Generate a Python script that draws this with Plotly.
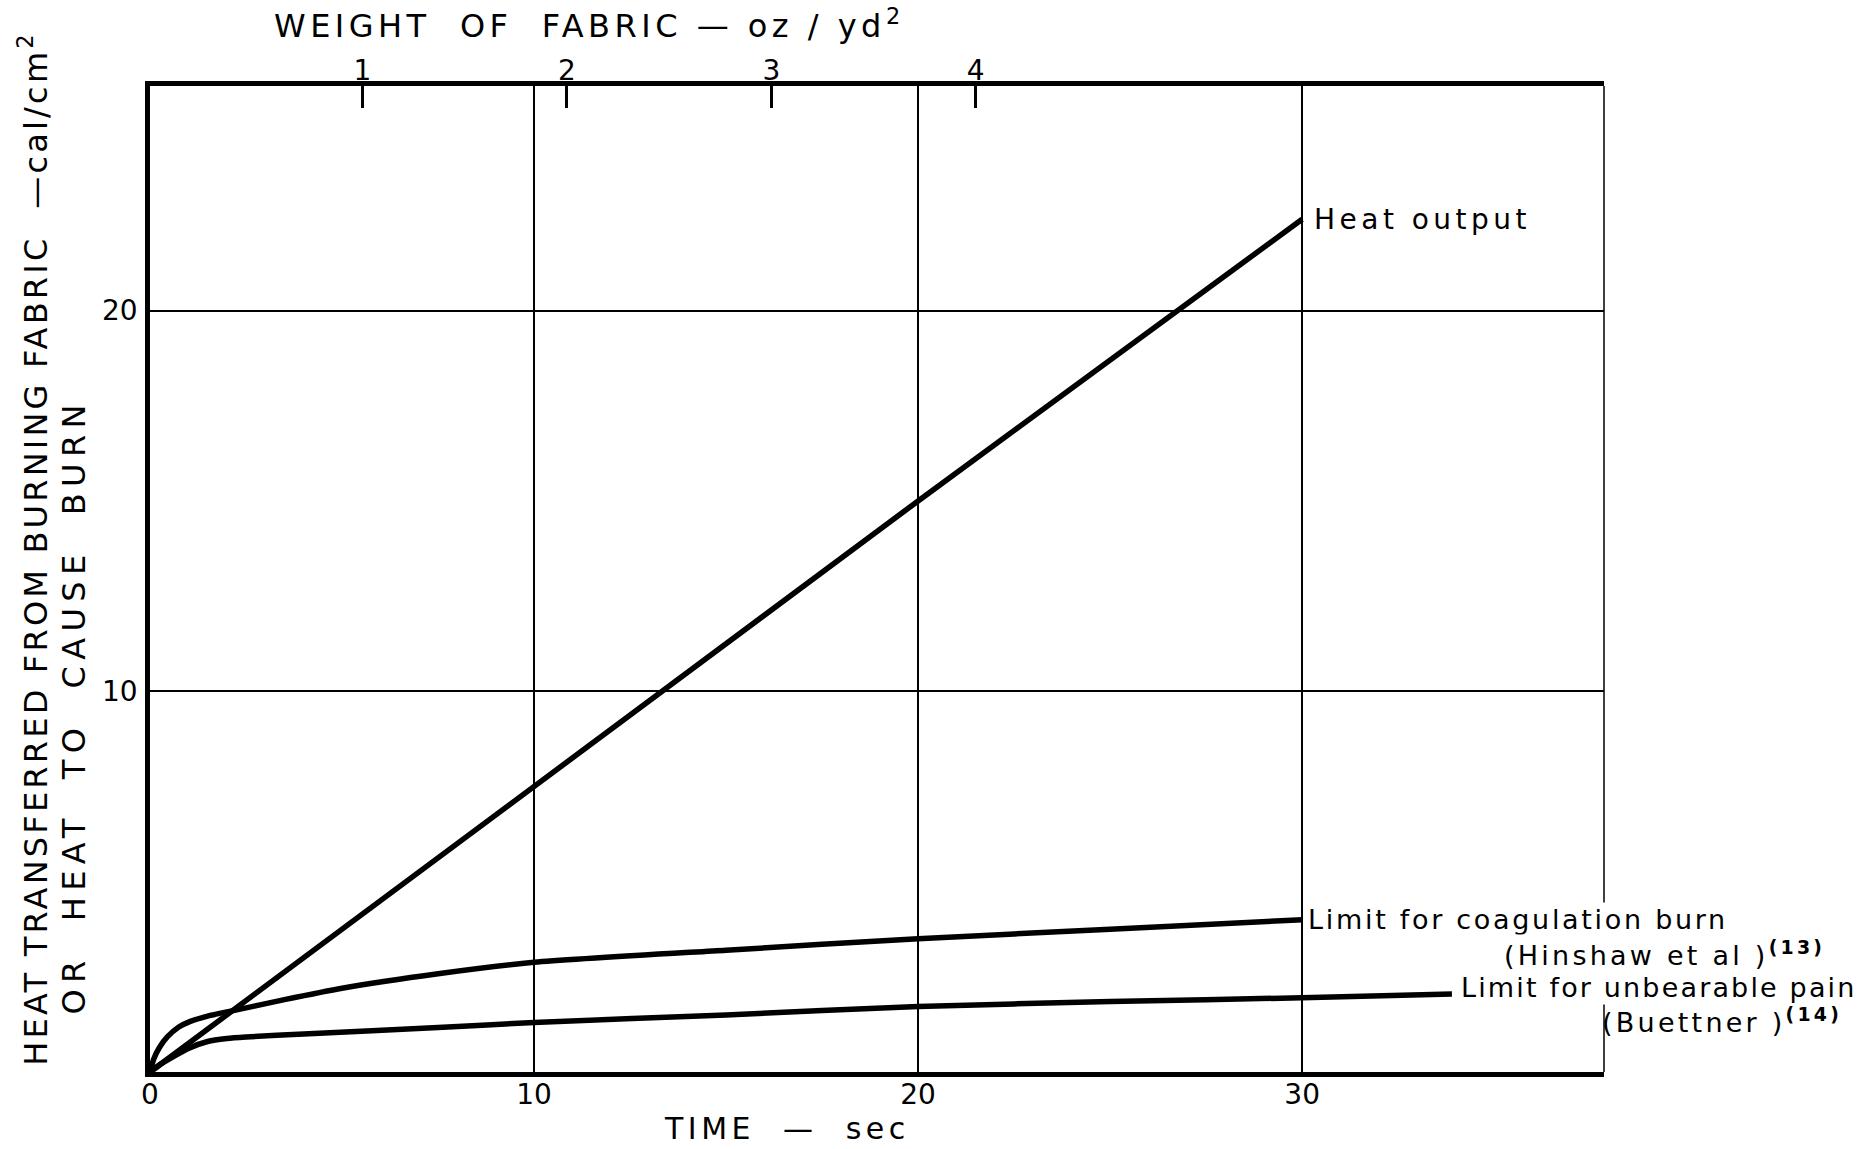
import json
import numpy as np
import plotly.graph_objects as go

# Time after ignition (s) against heat (cal/cm^2)
heat_time = [0, 10, 20, 30]
heat_output = [0, 7.5, 15.0, 22.4]

coag_time = [0, 0.1, 0.25, 0.45, 0.75, 1.05, 1.5, 2.2, 3.5, 5, 7.5, 10, 15, 20, 25, 30]
coag_limit = [0, 0.35, 0.65, 0.92, 1.18, 1.33, 1.47, 1.62, 1.9, 2.2, 2.58, 2.88, 3.2, 3.5, 3.75, 4.0]

pain_time = [0, 0.3, 0.6, 1.0, 1.5, 2.0, 2.5, 4, 7.5, 10, 15, 20, 25, 30, 33.9]
pain_limit = [0, 0.22, 0.4, 0.62, 0.8, 0.88, 0.92, 1.0, 1.17, 1.3, 1.5, 1.72, 1.85, 1.95, 2.05]

time_ticks = [0, 10, 20, 30]
heat_ticks = [10, 20]

# Fabric weight scale (oz/yd^2) along the top, with the time at which each tick sits
weight_ticks = [1, 2, 3, 4]
weight_tick_time = [5.47, 10.94, 16.2, 21.46]

TIME_MAX = 37.86
HEAT_MAX = 25.9

FONT = "DejaVu Sans"
INK = "black"

slope, intercept = np.polyfit(weight_ticks, weight_tick_time, 1)
weight_range = [(0 - intercept) / slope, (TIME_MAX - intercept) / slope]

fig = go.Figure()
curve = dict(color=INK, width=5.5)
fig.add_trace(go.Scatter(x=heat_time, y=heat_output, mode="lines", line=curve,
                         name="Heat output", hoverinfo="skip"))
fig.add_trace(go.Scatter(x=coag_time, y=coag_limit, mode="lines",
                         line=dict(curve, shape="spline", smoothing=0.6),
                         name="Limit for coagulation burn", hoverinfo="skip"))
fig.add_trace(go.Scatter(x=pain_time, y=pain_limit, mode="lines",
                         line=dict(curve, shape="spline", smoothing=0.6),
                         name="Limit for unbearable pain", hoverinfo="skip"))
# empty trace that switches on the fabric-weight axis along the top
fig.add_trace(go.Scatter(x=[], y=[], xaxis="x2", yaxis="y", mode="lines",
                         showlegend=False, hoverinfo="skip"))

tick_font = dict(family=FONT, size=28, color=INK)

fig.update_layout(
    width=1869, height=1149,
    margin=dict(l=150, r=265, t=86, b=77),
    paper_bgcolor="white", plot_bgcolor="white",
    showlegend=False,
    font=dict(family=FONT, color=INK),
    xaxis=dict(range=[0, TIME_MAX], tickvals=time_ticks, showgrid=True,
               gridcolor=INK, gridwidth=1.5, zeroline=False,
               showline=True, linecolor=INK, linewidth=4.5, ticks="",
               tickfont=tick_font, ticklabelstandoff=-6),
    yaxis=dict(range=[0, HEAT_MAX], tickvals=heat_ticks, showgrid=True,
               gridcolor=INK, gridwidth=1.5, zeroline=False,
               showline=True, linecolor=INK, linewidth=4.5, ticks="",
               tickfont=tick_font, ticklabelstandoff=2),
    xaxis2=dict(range=weight_range, overlaying="x", side="top", anchor="y",
                tickvals=weight_ticks, ticks="inside", ticklen=22, tickwidth=2.5,
                tickcolor=INK, showgrid=False, zeroline=False,
                showline=True, linecolor=INK, linewidth=4.5,
                tickfont=tick_font, ticklabelstandoff=-10),
)

# thin right-hand frame edge
fig.add_shape(type="line", xref="paper", yref="paper", x0=1, x1=1, y0=0, y1=1,
              line=dict(color=INK, width=1.5), layer="below")

label_font = dict(family=FONT, size=27, color=INK)
title_font = dict(family=FONT, size=32, color=INK)

annotations = [
    dict(text="WEIGHT  OF  FABRIC — oz / yd<sup>2</sup>", xref="paper", yref="paper",
         x=0.302, y=1.063, xanchor="center", yanchor="middle", font=title_font),
    dict(text="HEAT TRANSFERRED FROM BURNING FABRIC  —cal/cm<sup>2</sup>",
         xref="paper", yref="paper", x=-0.080, y=0.531, textangle=-90,
         xanchor="center", yanchor="middle", font=title_font),
    dict(text="OR  HEAT  TO  CAUSE  BURN", xref="paper", yref="paper",
         x=-0.052, y=0.371, textangle=-90, xanchor="center", yanchor="middle",
         font=title_font),
    dict(text="TIME  —  sec", xref="paper", yref="paper", x=0.438, y=-0.057,
         xanchor="center", yanchor="middle", font=dict(title_font, size=30)),
    dict(text="Heat output", x=heat_time[-1], y=heat_output[-1], xref="x", yref="y",
         xanchor="left", yanchor="middle", align="left", xshift=10,
         font=dict(label_font, size=28)),
    dict(text="Limit for coagulation burn", x=coag_time[-1], y=coag_limit[-1],
         xref="x", yref="y", xanchor="left", yanchor="middle", align="left",
         xshift=4, bgcolor="white", font=label_font),
    dict(text="(Hinshaw et al )<sup><b>(13)</b></sup>", x=coag_time[-1], y=coag_limit[-1],
         xref="x", yref="y", xanchor="left", yanchor="middle", align="left",
         xshift=200, yshift=-34, bgcolor="white", font=label_font),
    dict(text="Limit for unbearable pain", x=pain_time[-1], y=pain_limit[-1],
         xref="x", yref="y", xanchor="left", yanchor="middle", align="left",
         xshift=7, yshift=6, bgcolor="white", font=label_font),
    dict(text="(Buettner )<sup><b>(14)</b></sup>", x=pain_time[-1], y=pain_limit[-1],
         xref="x", yref="y", xanchor="left", yanchor="middle", align="left",
         xshift=148, yshift=-27, font=label_font),
]
for a in annotations:
    a.setdefault("showarrow", False)
    fig.add_annotation(**a)

# widened lettering, per annotation (em)
letter_spacing = [0.14, 0.1, 0.2, 0.15, 0.16, 0.1, 0.12, 0.08, 0.12]
post = """
var sp = %s;
document.querySelectorAll('g.annotation').forEach(function (g) {
  var i = +g.getAttribute('data-index');
  g.querySelectorAll('text.annotation-text').forEach(function (t) {
    t.style.letterSpacing = sp[i] + 'em';
  });
});
""" % json.dumps(letter_spacing)

fig.write_html("out.html", post_script=post)
